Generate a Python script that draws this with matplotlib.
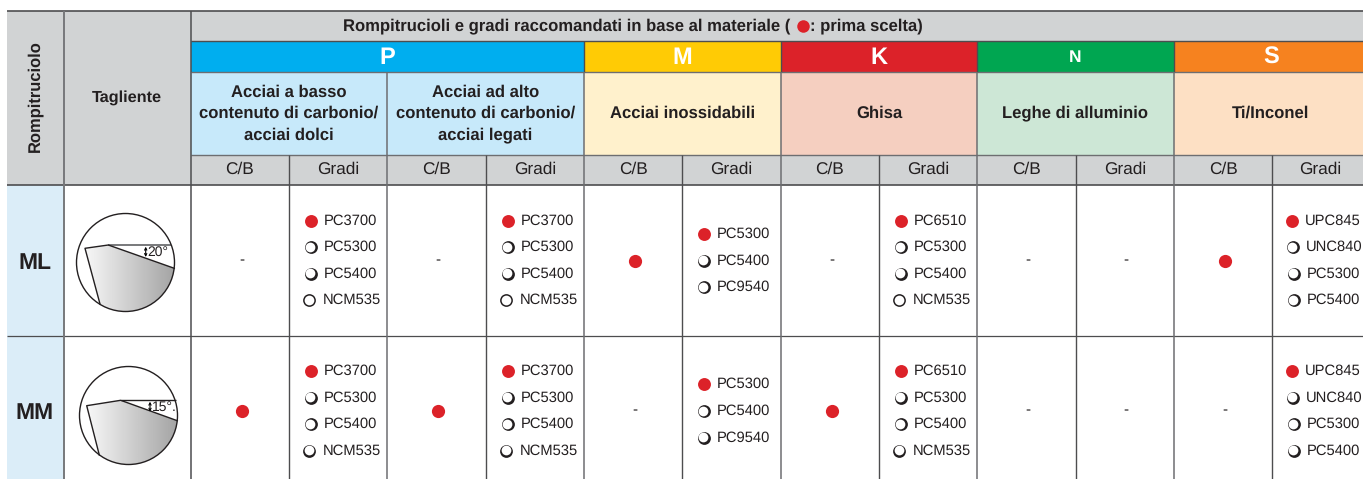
# coding: utf-8
import numpy as np
import matplotlib
matplotlib.use("Agg")
import matplotlib.pyplot as plt
from matplotlib.patches import Circle, Polygon, Rectangle

plt.rcParams['font.family'] = ['Liberation Sans', 'DejaVu Sans']
plt.rcParams['text.hinting'] = 'no_hinting'

TITLE = "Rompitrucioli e gradi raccomandati in base al materiale ("
TITLE_END = ": prima scelta)"
groups = ["P", "M", "K", "N", "S"]
group_colors = ["#00aeef", "#ffcb05", "#dc2229", "#00a651", "#f6821f"]
materials = [
    "Acciai a basso\ncontenuto di carbonio/\nacciai dolci",
    "Acciai ad alto\ncontenuto di carbonio/\nacciai legati",
    "Acciai inossidabili",
    "Ghisa",
    "Leghe di alluminio",
    "Ti/Inconel",
]
material_colors = ["#c7e9fa", "#c7e9fa", "#fff1cc", "#f5cfc0", "#cde7d6", "#fde0c4"]
rows = ["ML", "MM"]
angles = ["20°", "15°."]

# C/B per material: 1 = red dot, 0 = dash
cb = [
    [0, 0, 1, 0, 0, 1],
    [1, 1, 0, 1, 0, 0],
]
p_grades = ["PC3700", "PC5300", "PC5400", "NCM535"]
m_grades = ["PC5300", "PC5400", "PC9540"]
k_grades = ["PC6510", "PC5300", "PC5400", "NCM535"]
s_grades = ["UPC845", "UNC840", "PC5300", "PC5400"]
grades = [p_grades, p_grades, m_grades, k_grades, [], s_grades]

# table layout in pixels, the last column runs off the page
xs = [7, 64, 191, 289, 387, 486, 584, 682, 781, 879, 977, 1076, 1174, 1272, 1368]
ys = [11, 41.3, 71.5, 155, 185, 336, 485]
grade_shift = {"NCM535": -15.5, "UPC845": -16, "UNC840": -15}
GREY = "#d1d3d4"
LINE = "#4d4d4f"
TEXT = "#231f20"
RED = "#dc2229"

fig = plt.figure(figsize=(13.63, 4.79), dpi=100)
ax = fig.add_axes([0, 0, 1, 1])


def box(x0, y0, x1, y1, color):
    ax.add_patch(Rectangle((x0, y0), x1 - x0, y1 - y0, fc=color, ec="none", zorder=1))


def hline(y, x0, x1, lw=1.0, color=LINE):
    ax.plot([x0, x1], [y, y], color=color, lw=lw, zorder=3, solid_capstyle="butt")


def vline(x, y0, y1, lw=1.0, color=LINE):
    ax.plot([x, x], [y0, y1], color=color, lw=lw, zorder=3, solid_capstyle="butt")


def label(x, y, s, size=12, weight="bold", color=TEXT, **kw):
    return ax.text(x, y, s, fontsize=size, fontweight=weight, color=color,
                   ha=kw.pop("ha", "center"), va="center", zorder=5, **kw)


def dot(x, y, size=9.3):
    ax.plot(x, y, "o", ms=size, mfc=RED, mec=RED, mew=0, zorder=5, snap=False)


def ring(x, y):
    # open circle, heavier on the lower right
    ax.plot(x, y, "o", ms=9.2, mfc=TEXT, mew=0, zorder=5, snap=False)
    ax.plot(x - 0.45, y - 0.45, "o", ms=7.0, mfc="white", mew=0, zorder=6, snap=False)


def insert(cx, cy, r, corner_a, corner_b, end_a, end_b):
    # shaded insert bounded by two edges and the arc of the circle
    t0 = np.arctan2(end_a[1] - cy, end_a[0] - cx)
    t1 = np.arctan2(end_b[1] - cy, end_b[0] - cx)
    t = np.linspace(t0, t1, 60)
    arc = np.column_stack([cx + r * np.cos(t), cy + r * np.sin(t)])
    outline = np.vstack([arc, [corner_a], [corner_b]])
    poly = Polygon(outline, closed=True, transform=ax.transData)
    grad = np.linspace(0.97, 0.64, 200).reshape(1, -1)
    im = ax.imshow(grad, cmap="gray", vmin=0, vmax=1, aspect="auto", zorder=2,
                   extent=(corner_a[0], cx + r, cy + r, cy - r), interpolation="bilinear")
    im.set_clip_path(poly)
    edge = np.array([end_b, corner_a, corner_b, end_a])
    ax.plot(edge[:, 0], edge[:, 1], color=TEXT, lw=1.0, zorder=4)
    ax.add_patch(Circle((cx, cy), r, fc="none", ec=TEXT, lw=1.0, zorder=4))


def angle_mark(x, y0, y1):
    ax.annotate("", (x, y0), (x, y1), zorder=5,
                arrowprops=dict(arrowstyle="<->", lw=0.8, mutation_scale=4, shrinkA=0, shrinkB=0))


# header backgrounds
box(xs[0], ys[0], xs[-1], ys[4], GREY)
spans = [(2, 6), (6, 8), (8, 10), (10, 12), (12, 14)]
for (a, b), g, c in zip(spans, groups, group_colors):
    box(xs[a], ys[1], xs[b], ys[2], c)
    label((xs[a] + xs[b]) / 2, (ys[1] + ys[2]) / 2 + 1.5, g,
          size=12.5 if g == "N" else 17, color="white")
mat_spans = [(2, 4), (4, 6), (6, 8), (8, 10), (10, 12), (12, 14)]
for (a, b), m, c in zip(mat_spans, materials, material_colors):
    box(xs[a], ys[2], xs[b], ys[3], c)
    label((xs[a] + xs[b]) / 2, 113.5, m, linespacing=1.46)
box(xs[0], ys[4], xs[1], ys[6], "#dbedf8")

# title with the red dot in it
label(343, 26.5, TITLE, ha="left")
dot(803, 26, 9)
label(810, 26.5, TITLE_END, ha="left")

label(35, 96, "Rompitruciolo", size=11.9, rotation=90)
label(127, 98, "Tagliente", size=11.7)

for i in range(2, 14):
    label((xs[i] + xs[i + 1]) / 2, 169, "C/B" if i % 2 == 0 else "Gradi",
          size=12.4, weight="normal")

# body rows
row_y = [260.5, 411]
for r, name in enumerate(rows):
    cy = row_y[r]
    label(35, cy + 2.5, name, size=16.5)
    for m in range(6):
        cb_x = xs[2 + 2 * m] + 50.5
        gr_x = xs[3 + 2 * m] + 49
        if cb[r][m]:
            dot(cb_x, cy, 9.5)
        else:
            label(cb_x, cy, "-", size=11, weight="normal")
        items = grades[m]
        if not items:
            label(gr_x + 1, cy, "-", size=11, weight="normal")
        n = len(items)
        for k, g in enumerate(items):
            yy = cy + (k - (n - 1) / 2) * 26.6
            tx = gr_x + grade_shift.get(g, -14)
            label(tx, yy, g, size=10.6, weight="normal", ha="left")
            if k == 0:
                dot(tx - 13, yy)
            else:
                ring(tx - 13.5, yy)

# cutting edge sketches
insert(125.5, 262.5, 49, (85, 248.3), (108.3, 245), (174.3, 268.3), (100, 304))
insert(128.5, 415.5, 49, (86.7, 405.7), (120.7, 400.3), (177.3, 420.7), (99.3, 455))
hline(245, 108.3, 170.7, 1.3, "#6d6e71")
hline(400.3, 120.7, 175.7, 1.0, TEXT)
label(157.3, 252.3, angles[0], size=10, weight="normal")
label(164.5, 407.7, angles[1], size=10, weight="normal")
angle_mark(145.7, 246.7, 257)
angle_mark(150, 401.7, 411.7)

# grid lines
hline(ys[0], xs[0], xs[-1], 1.2)
hline(ys[1], xs[2], xs[-1], 1.0)
hline(ys[2], xs[2], xs[-1], 1.0, "#6d6e71")
hline(ys[3], xs[2], xs[-1], 1.0, "#6d6e71")
hline(ys[4], xs[0], xs[-1], 1.2)
hline(ys[5], xs[0], xs[-1], 0.9)
vline(xs[1], ys[0], ys[6], 1.4, "#77787b")
vline(xs[2], ys[0], ys[6], 1.1)
for i in range(6, 14, 2):
    vline(xs[i], ys[1], ys[2], 1.0)
for i in range(4, 14, 2):
    vline(xs[i], ys[2], ys[6], 1.1, "#6d6e71")
for i in range(3, 14, 2):
    vline(xs[i], ys[3], ys[6], 1.0)

ax.set_xlim(0, 1363)
ax.set_ylim(479, 0)
ax.axis("off")
fig.savefig("out.png", dpi=100)
